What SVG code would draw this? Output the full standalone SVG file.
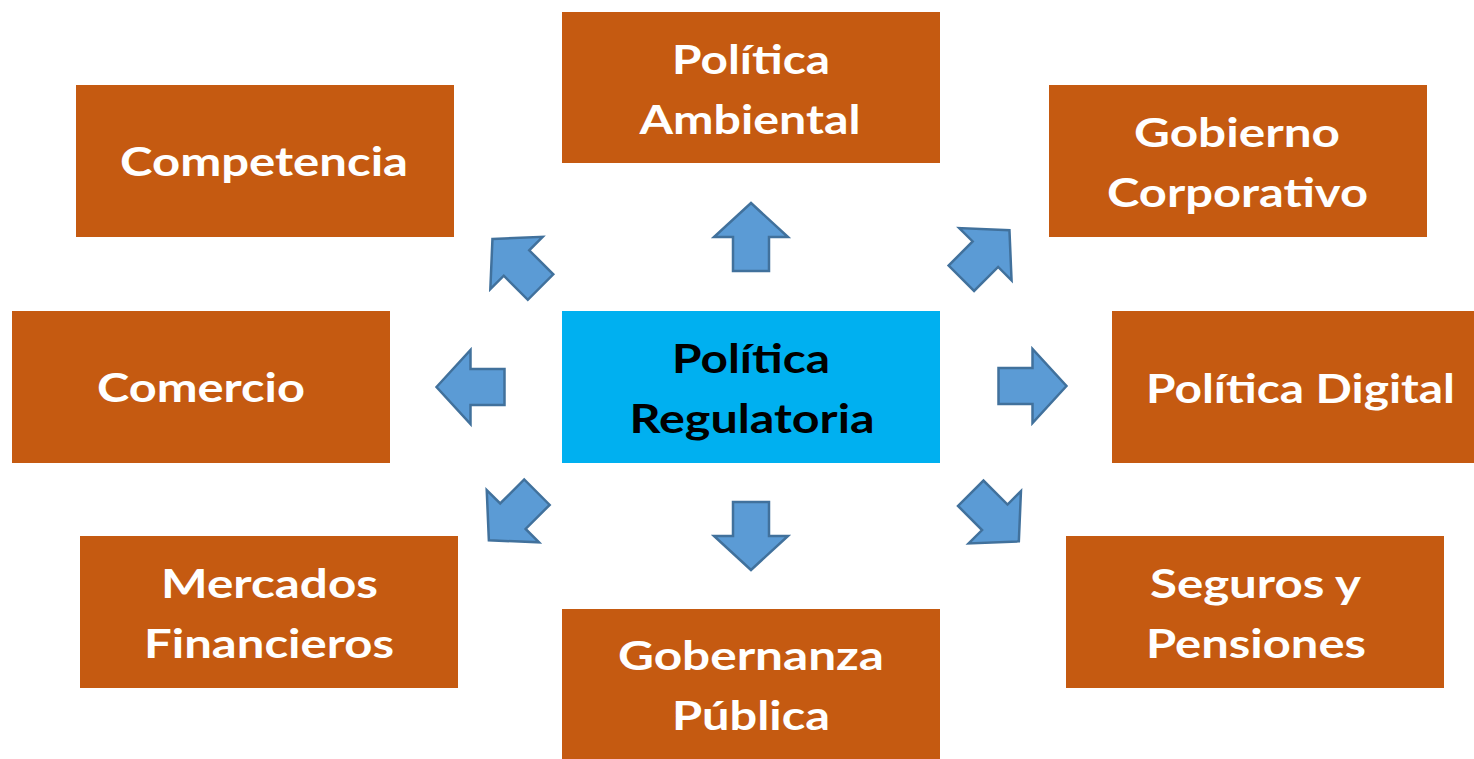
<svg xmlns="http://www.w3.org/2000/svg" width="1474" height="759" viewBox="0 0 1474 759">
<style>
.box{fill:#C55A11;}
.center{fill:#00B0F0;}
.t{font-family:Lato,"Open Sans","Liberation Sans",sans-serif;font-weight:bold;font-size:40px;fill:#FFFFFF;text-anchor:middle;}
.tc{fill:#000000;}
.arr{fill:#5B9BD5;stroke:#41719C;stroke-width:2.5;stroke-linejoin:miter;}
</style>
<defs>
<path id="arrow" d="M0,-34 L37,0 L18,0 L18,34 L-18,34 L-18,0 L-37,0 Z"/>
</defs>
<rect width="1474" height="759" fill="#FFFFFF"/>
<g id="connectors">
<use href="#arrow" class="arr" transform="translate(751,237)"/>
<use href="#arrow" class="arr" transform="translate(751,536) rotate(180)"/>
<use href="#arrow" class="arr" transform="translate(470.5,387) rotate(-90)"/>
<use href="#arrow" class="arr" transform="translate(1032.5,386) rotate(90)"/>
<use href="#arrow" class="arr" transform="translate(516.5,263) rotate(-45)"/>
<use href="#arrow" class="arr" transform="translate(985.4,254.2) rotate(45)"/>
<use href="#arrow" class="arr" transform="translate(512.9,516.2) rotate(-135)"/>
<use href="#arrow" class="arr" transform="translate(994.8,517.3) rotate(135)"/>
</g>
<g id="politica-regulatoria">
<rect class="center" x="562" y="311" width="378" height="152"/>
<text class="t tc" x="751" y="373" textLength="158" lengthAdjust="spacingAndGlyphs">Política</text>
<text class="t tc" x="752" y="433" textLength="245" lengthAdjust="spacingAndGlyphs">Regulatoria</text>
</g>
<g id="politica-ambiental">
<rect class="box" x="562" y="12" width="378" height="151"/>
<text class="t" x="751" y="74" textLength="158" lengthAdjust="spacingAndGlyphs">Política</text>
<text class="t" x="750" y="134" textLength="221" lengthAdjust="spacingAndGlyphs">Ambiental</text>
</g>
<g id="competencia">
<rect class="box" x="76" y="85" width="378" height="152"/>
<text class="t" x="264" y="176" textLength="288" lengthAdjust="spacingAndGlyphs">Competencia</text>
</g>
<g id="gobierno-corporativo">
<rect class="box" x="1049" y="85" width="378" height="152"/>
<text class="t" x="1237" y="147" textLength="206" lengthAdjust="spacingAndGlyphs">Gobierno</text>
<text class="t" x="1237.5" y="207" textLength="261" lengthAdjust="spacingAndGlyphs">Corporativo</text>
</g>
<g id="comercio">
<rect class="box" x="12" y="311" width="378" height="152"/>
<text class="t" x="201" y="402" textLength="208" lengthAdjust="spacingAndGlyphs">Comercio</text>
</g>
<g id="politica-digital">
<rect class="box" x="1112" y="311" width="378" height="152"/>
<text class="t" x="1300.5" y="403" textLength="309" lengthAdjust="spacingAndGlyphs">Política Digital</text>
</g>
<g id="mercados-financieros">
<rect class="box" x="80" y="536" width="378" height="152"/>
<text class="t" x="269.5" y="598" textLength="217" lengthAdjust="spacingAndGlyphs">Mercados</text>
<text class="t" x="269" y="658" textLength="250" lengthAdjust="spacingAndGlyphs">Financieros</text>
</g>
<g id="gobernanza-publica">
<rect class="box" x="562" y="609" width="378" height="151"/>
<text class="t" x="751" y="670" textLength="266" lengthAdjust="spacingAndGlyphs">Gobernanza</text>
<text class="t" x="751" y="730" textLength="158" lengthAdjust="spacingAndGlyphs">Pública</text>
</g>
<g id="seguros-pensiones">
<rect class="box" x="1066" y="536" width="378" height="152"/>
<text class="t" x="1255.5" y="598" textLength="211" lengthAdjust="spacingAndGlyphs">Seguros y</text>
<text class="t" x="1256" y="658" textLength="220" lengthAdjust="spacingAndGlyphs">Pensiones</text>
</g>
</svg>
